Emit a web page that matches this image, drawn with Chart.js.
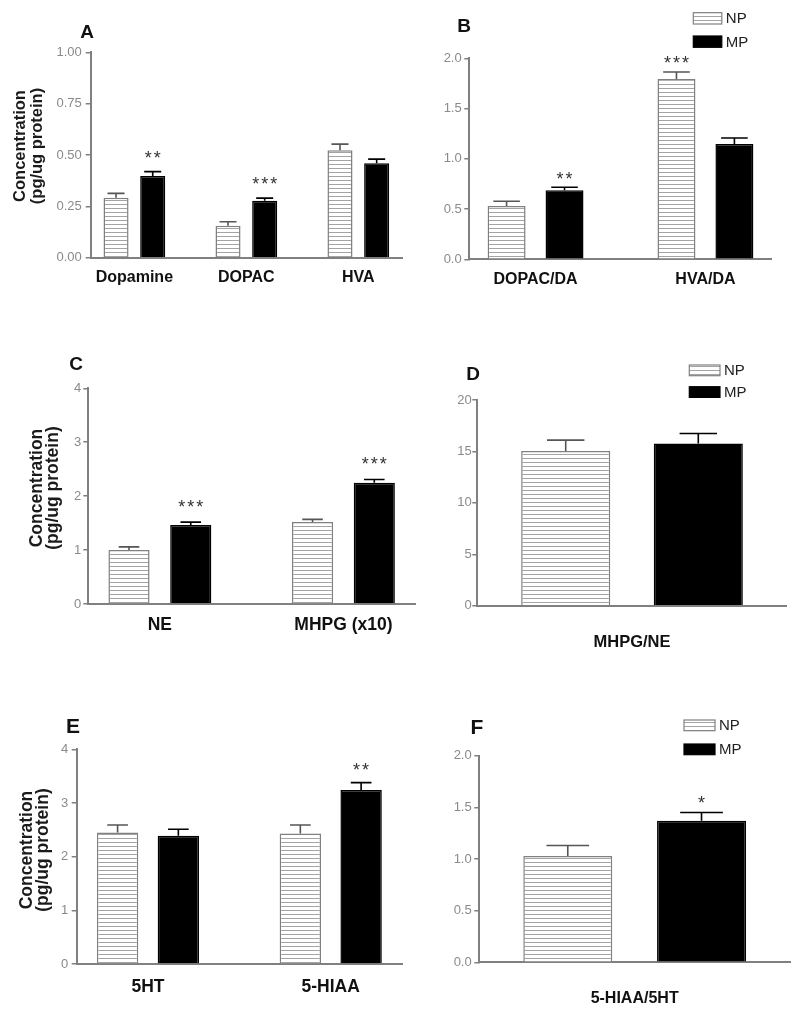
<!DOCTYPE html>
<html>
<head>
<meta charset="utf-8">
<script src="https://cdn.jsdelivr.net/npm/chart.js@4.4.1/dist/chart.umd.min.js"></script>
<style>
  body { margin: 0; background: #fff; width: 800px; height: 1013px; position: relative; overflow: hidden; }
</style>
</head>
<body>
<script>
// ---- data ----
// A: dopamine and metabolites
const catsA = ["Dopamine", "DOPAC", "HVA"];
const npA = [0.292, 0.156, 0.523];
const npErrA = [0.021, 0.019, 0.030];
const mpA = [0.398, 0.277, 0.460];
const mpErrA = [0.021, 0.013, 0.020];
const sigNpA = ["", "", ""];
const sigMpA = ["**", "***", ""];
const yTicksA = ["0.00", "0.25", "0.50", "0.75", "1.00"];

// B: turnover ratios
const catsB = ["DOPAC/DA", "HVA/DA"];
const npB = [0.53, 1.794];
const npErrB = [0.047, 0.070];
const mpB = [0.687, 1.147];
const mpErrB = [0.030, 0.060];
const sigNpB = ["", "***"];
const sigMpB = ["**", ""];
const yTicksB = ["0.0", "0.5", "1.0", "1.5", "2.0"];

// C: norepinephrine
const catsC = ["NE", "MHPG (x10)"];
const npC = [1.00, 1.52];
const npErrC = [0.06, 0.05];
const mpC = [1.463, 2.25];
const mpErrC = [0.055, 0.06];
const sigNpC = ["", ""];
const sigMpC = ["***", "***"];
const yTicksC = ["0", "1", "2", "3", "4"];

// D: MHPG/NE
const catsD = ["MHPG/NE"];
const npD = [15.04];
const npErrD = [1.06];
const mpD = [15.78];
const mpErrD = [0.97];
const sigNpD = [""];
const sigMpD = [""];
const yTicksD = ["0", "5", "10", "15", "20"];

// E: serotonin
const catsE = ["5HT", "5-HIAA"];
const npE = [2.45, 2.43];
const npErrE = [0.14, 0.16];
const mpE = [2.39, 3.24];
const mpErrE = [0.12, 0.14];
const sigNpE = ["", ""];
const sigMpE = ["", "**"];
const yTicksE = ["0", "1", "2", "3", "4"];

// F: 5-HIAA/5HT
const catsF = ["5-HIAA/5HT"];
const npF = [1.03];
const npErrF = [0.10];
const mpF = [1.37];
const mpErrF = [0.08];
const sigNpF = [""];
const sigMpF = ["*"];
const yTicksF = ["0.0", "0.5", "1.0", "1.5", "2.0"];

const seriesNames = ["NP", "MP"];
const yTitle = ["Concentration", "(pg/ug protein)"];

// ---- layout / style ----
const FONT = "'Liberation Sans', Arial, Helvetica, sans-serif";
const AXIS = '#808080';

// hatch tile for the NP bars
const tile = document.createElement('canvas');
tile.width = 8; tile.height = 4;
(function () {
  const g = tile.getContext('2d');
  g.fillStyle = '#fff'; g.fillRect(0, 0, 8, 4);
  g.fillStyle = '#a4a4a4'; g.fillRect(0, 0, 8, 1);
})();

const panels = [
  { letter: 'A', cats: catsA, np: npA, npErr: npErrA, mp: mpA, mpErr: mpErrA, sigNp: sigNpA, sigMp: sigMpA, yTicks: yTicksA,
    box: [0, 0, 405, 300], axisX: 90.7, x1: 402, yTop: 52.3, yBot: 257.7, m: 0.39, cp: 0.655, bp: 0.683, cap: 0.68,
    xPad: 10.7, catSize: 16, yPad: 4, title: { x: 20, y: 146, size: 16.5, lh: 17 }, letterAt: [87, 33, 19], starGap: 18 },
  { letter: 'B', cats: catsB, np: npB, npErr: npErrB, mp: mpB, mpErr: mpErrB, sigNp: sigNpB, sigMp: sigMpB, yTicks: yTicksB,
    box: [405, 0, 800, 300], axisX: 469.3, x1: 771.7, yTop: 58.3, yBot: 259.3, m: 0.39, cp: 0.682, bp: 0.655, cap: 0.7,
    xPad: 10.4, catSize: 16, yPad: 2.6, letterAt: [464, 27, 19], starGap: 13,
    legend: { x: 693.3, y: 12.7, gap: 23.3, w: 28.5, h: 11.3 } },
  { letter: 'C', cats: catsC, np: npC, npErr: npErrC, mp: mpC, mpErr: mpErrC, sigNp: sigNpC, sigMp: sigMpC, yTicks: yTicksC,
    box: [0, 330, 420, 650], axisX: 88.3, x1: 415, yTop: 388.3, yBot: 604, m: 0.39, cp: 0.673, bp: 0.666, cap: 0.5,
    xPad: 10.5, catSize: 17.5, yPad: 2, title: { x: 37, y: 488, size: 17.5, lh: 16 }, letterAt: [76, 365, 19], starGap: 19.5 },
  { letter: 'D', cats: catsD, np: npD, npErr: npErrD, mp: mpD, mpErr: mpErrD, sigNp: sigNpD, sigMp: sigMpD, yTicks: yTicksD,
    box: [420, 330, 800, 660], axisX: 477.3, x1: 786.7, yTop: 400, yBot: 605.7, m: 0.5, cp: 0.857, bp: 0.672, cap: 0.42,
    xPad: 26.4, catSize: 16.5, yPad: 0.6, letterAt: [473, 375, 19], starGap: 15,
    legend: { x: 689.3, y: 365, gap: 21.7, w: 30.7, h: 10.7 } },
  { letter: 'E', cats: catsE, np: npE, npErr: npErrE, mp: mpE, mpErr: mpErrE, sigNp: sigNpE, sigMp: sigMpE, yTicks: yTicksE,
    box: [0, 690, 410, 1013], axisX: 76.7, x1: 402, yTop: 749.3, yBot: 964, m: 0.39, cp: 0.665, bp: 0.681, cap: 0.5,
    xPad: 12.2, catSize: 17.5, yPad: 3.4, title: { x: 27, y: 850, size: 17.5, lh: 16 }, letterAt: [73, 727, 21], starGap: 17 },
  { letter: 'F', cats: catsF, np: npF, npErr: npErrF, mp: mpF, mpErr: mpErrF, sigNp: sigNpF, sigMp: sigMpF, yTicks: yTicksF,
    box: [410, 690, 800, 1013], axisX: 479.3, x1: 790, yTop: 755.7, yBot: 962.3, m: 0.5, cp: 0.861, bp: 0.665, cap: 0.48,
    xPad: 26.4, catSize: 16, yPad: 2.6, letterAt: [477, 728, 21], starGap: 14,
    legend: { x: 684, y: 720, gap: 24, w: 31, h: 10.7 } }
];

// error bars, significance stars, panel letter, y title and legend
function extras(p) {
  const ox = p.box[0], oy = p.box[1];
  return {
    id: 'extras',
    afterDatasetsDraw(chart) {
      const { ctx } = chart;
      const y = chart.scales.y;
      ctx.save();
      chart.data.datasets.forEach((ds, di) => {
        chart.getDatasetMeta(di).data.forEach((bar, i) => {
          const top = y.getPixelForValue(ds.data[i] + ds.err[i]);
          const half = bar.width * p.cap / 2;
          ctx.strokeStyle = ds.errColor;
          ctx.lineWidth = 1.6;
          ctx.beginPath();
          ctx.moveTo(bar.x, bar.y);
          ctx.lineTo(bar.x, top);
          ctx.moveTo(bar.x - half, top);
          ctx.lineTo(bar.x + half, top);
          ctx.stroke();
          const s = ds.sig[i];
          if (s) {
            ctx.fillStyle = '#333';
            ctx.font = '18px ' + FONT;
            ctx.textAlign = 'center';
            ctx.textBaseline = 'alphabetic';
            const cy = top - p.starGap;
            for (let k = 0; k < s.length; k++) {
              const sx = bar.x + (k - (s.length - 1) / 2) * 9;
              ctx.fillText('*', sx, cy + 10.3);
            }
          }
        });
      });
      // panel letter
      ctx.fillStyle = '#111';
      ctx.font = 'bold ' + p.letterAt[2] + 'px ' + FONT;
      ctx.textAlign = 'center';
      ctx.textBaseline = 'middle';
      ctx.fillText(p.letter, p.letterAt[0] - ox, p.letterAt[1] - oy);
      // rotated y axis title
      if (p.title) {
        const T = p.title;
        ctx.save();
        ctx.translate(T.x - ox, T.y - oy);
        ctx.rotate(-Math.PI / 2);
        ctx.fillStyle = '#1a1a1a';
        ctx.font = 'bold ' + T.size + 'px ' + FONT;
        yTitle.forEach((line, k) => ctx.fillText(line, 0, k * T.lh));
        ctx.restore();
      }
      // legend
      if (p.legend) {
        const L = p.legend;
        chart.data.datasets.forEach((ds, di) => {
          const bx = L.x - ox, by = L.y - oy + di * L.gap;
          ctx.fillStyle = ds.backgroundColor;
          ctx.fillRect(bx, by, L.w, L.h);
          ctx.strokeStyle = ds.borderColor;
          ctx.lineWidth = 1.2;
          ctx.strokeRect(bx, by, L.w, L.h);
          ctx.fillStyle = '#222';
          ctx.font = '15px ' + FONT;
          ctx.textAlign = 'left';
          ctx.textBaseline = 'middle';
          ctx.fillText(ds.label, bx + L.w + 4, by + L.h / 2 + 1);
        });
      }
      ctx.restore();
    }
  };
}

function buildPanel(p) {
  const [left, top, right, bottom] = p.box;
  const w = right - left, h = bottom - top;
  const cv = document.createElement('canvas');
  cv.width = w; cv.height = h;
  cv.style.cssText = `position:absolute;left:${left}px;top:${top}px;width:${w}px;height:${h}px`;
  document.body.appendChild(cv);
  const ctx = cv.getContext('2d');
  const hatch = ctx.createPattern(tile, 'repeat');
  const n = p.cats.length;

  new Chart(ctx, {
    type: 'bar',
    data: {
      labels: p.cats.map((c, i) => i + 1),
      datasets: [
        { label: seriesNames[0], data: p.np, err: p.npErr, sig: p.sigNp, errColor: '#555',
          backgroundColor: hatch, borderColor: AXIS, borderWidth: 1.5,
          categoryPercentage: p.cp, barPercentage: p.bp },
        { label: seriesNames[1], data: p.mp, err: p.mpErr, sig: p.sigMp, errColor: '#000',
          backgroundColor: '#000', borderColor: '#000', borderWidth: 1.5,
          categoryPercentage: p.cp, barPercentage: p.bp }
      ]
    },
    options: {
      responsive: false,
      animation: false,
      devicePixelRatio: 1,
      layout: { padding: { left: 0, top: p.yTop - top, right: right - p.x1, bottom: 0 } },
      plugins: { legend: { display: false }, tooltip: { enabled: false } },
      scales: {
        x: {
          type: 'linear',
          offset: false,
          bounds: 'data',
          min: 1 - p.m,
          max: n + p.m,
          afterBuildTicks: s => { s.ticks = p.cats.map((c, i) => ({ value: i + 1 })); },
          afterFit: s => { s.height = bottom - p.yBot; },
          grid: { display: false, drawTicks: false, offset: false },
          border: { display: true, color: AXIS, width: 2 },
          ticks: { autoSkip: false, maxRotation: 0, padding: p.xPad, color: '#111',
                   font: { family: FONT, size: p.catSize, weight: 'bold' },
                   callback: v => p.cats[Math.round(v) - 1] }
        },
        y: {
          min: 0,
          max: parseFloat(p.yTicks[p.yTicks.length - 1]),
          afterBuildTicks: s => { s.ticks = p.yTicks.map(t => ({ value: parseFloat(t) })); },
          afterFit: s => { s.width = p.axisX - left; },
          grid: { drawOnChartArea: false, drawTicks: true, tickLength: 5, color: AXIS, lineWidth: 1.5 },
          border: { display: true, color: AXIS, width: 2 },
          ticks: { padding: p.yPad, color: '#8a8a8a', font: { family: FONT, size: 13 },
                   callback: (v, i) => p.yTicks[i] }
        }
      }
    },
    plugins: [extras(p)]
  });
}

panels.forEach(buildPanel);
</script>
</body>
</html>
